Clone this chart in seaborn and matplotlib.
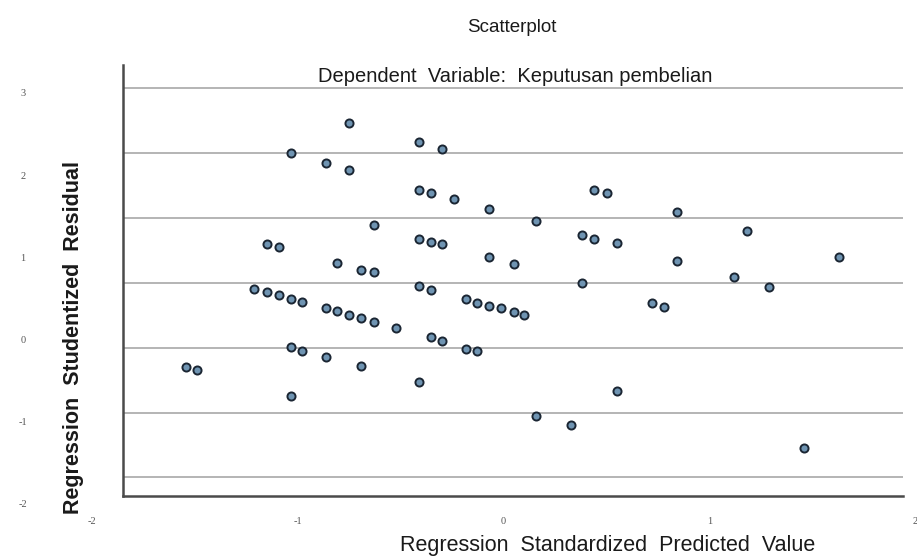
import numpy as np
import pandas as pd
import matplotlib
matplotlib.use("Agg")
import matplotlib.pyplot as plt
import matplotlib.transforms as mtransforms
import seaborn as sns

# ---- data ----
predicted = [-0.75, -0.41, -0.30, -1.03, -0.86, -0.75, -0.41, -0.35, -0.24, -0.07,
             -0.63, 0.16, -1.15, -1.09, -0.41, -0.35, -0.30, -0.07, 0.05, -0.81,
             -0.69, -0.63, -1.21, -1.15, -1.09, -1.03, -0.98, -0.41, -0.35, -0.86,
             -0.81, -0.75, -0.69, -0.63, -0.52, -0.18, -0.13, -0.07, -0.01, 0.05,
             0.10, -0.35, -0.30, -1.03, -0.98, -0.18, -0.13, -1.54, -1.49, -0.86,
             -0.69, -0.41, -1.03, 0.16, 0.44, 0.50, 0.84, 0.38, 0.44, 0.55,
             1.18, 0.84, 1.63, 0.38, 1.12, 1.29, 0.72, 0.78, 0.55, 0.33, 1.46]
residual = [2.65, 2.42, 2.33, 2.28, 2.16, 2.07, 1.83, 1.79, 1.72, 1.60,
            1.41, 1.45, 1.17, 1.14, 1.24, 1.20, 1.17, 1.01, 0.93, 0.94,
            0.86, 0.83, 0.63, 0.59, 0.55, 0.51, 0.47, 0.66, 0.62, 0.39,
            0.36, 0.31, 0.27, 0.23, 0.15, 0.50, 0.46, 0.42, 0.39, 0.35,
            0.31, 0.04, 0.00, -0.08, -0.13, -0.10, -0.13, -0.32, -0.36, -0.20,
            -0.31, -0.51, -0.67, -0.92, 1.83, 1.80, 1.56, 1.28, 1.24, 1.19,
            1.33, 0.97, 1.01, 0.70, 0.77, 0.65, 0.46, 0.41, -0.62, -1.03, -1.31]
x_tick_labels = ["-2", "-1", "0", "1", "2"]
y_tick_labels = ["3", "2", "1", "0", "-1", "-2"]

df = pd.DataFrame({"Regression Standardized Predicted Value": predicted,
                   "Regression Studentized Residual": residual})

sns.set_theme(style="white")
plt.rcParams["font.family"] = ["Liberation Sans", "DejaVu Sans"]

W, H = 917, 557
fig = plt.figure(figsize=(W / 100, H / 100), dpi=100)
L, R, T, B = 123, 903, 65, 496
ax = fig.add_axes([L / W, 1 - B / H, (R - L) / W, (B - T) / H])

px_per_x, x0_px = 206.0, 503.5
px_per_y, y0_px = 82.2, 340.5
ax.set_xlim((L - x0_px) / px_per_x, (R - x0_px) / px_per_x)
ax.set_ylim((y0_px - B) / px_per_y, (y0_px - T) / px_per_y)

# horizontal gridlines
grid_top = (y0_px - 87.5) / px_per_y
grid_step = 65.0 / px_per_y
for k in range(7):
    ax.axhline(grid_top - k * grid_step, color="#a8a8a8", lw=1.2, zorder=1)

sns.scatterplot(data=df, x="Regression Standardized Predicted Value",
                y="Regression Studentized Residual", ax=ax,
                s=34, color="#6f94b2", edgecolor="#1b2633", linewidth=1.4,
                zorder=3)

for side in ["top", "right"]:
    ax.spines[side].set_visible(False)
for side in ["left", "bottom"]:
    ax.spines[side].set_color("#4a4a4a")
    ax.spines[side].set_linewidth(1.8)
ax.set_xticks([])
ax.set_yticks([])

# tick labels (placed as in the reference)
ytrans = mtransforms.blended_transform_factory(ax.transAxes, ax.transData)
for lab in y_tick_labels:
    ax.text((23 - L) / (R - L), float(lab), lab, transform=ytrans,
            ha="center", va="center", fontsize=7.5, color="#555555",
            family="Liberation Serif", clip_on=False)
xtrans = mtransforms.blended_transform_factory(ax.transData, ax.transAxes)
for lab in x_tick_labels:
    ax.text(float(lab), (B - 521) / (B - T), lab, transform=xtrans,
            ha="center", va="center", fontsize=7.5, color="#555555",
            family="Liberation Serif", clip_on=False)

ax.set_xlabel("Regression  Standardized  Predicted  Value", fontsize=15.5,
              color="#1a1a1a")
ax.xaxis.set_label_coords((608 - L) / (R - L), (B - 546) / (B - T))
ax.xaxis.label.set_verticalalignment("center")
ax.set_ylabel("Regression  Studentized  Residual", fontsize=15.5,
              fontweight="bold", color="#1a1a1a")
ax.yaxis.set_label_coords((74 - L) / (R - L), (B - 338) / (B - T))
ax.yaxis.label.set_verticalalignment("center")

ax.text(0.5 + (515 - (L + R) / 2) / (R - L), (B - 76) / (B - T),
        "Dependent  Variable:  Keputusan pembelian", transform=ax.transAxes,
        ha="center", va="center", fontsize=14.5, color="#1a1a1a")
fig.text(512 / W, 1 - 28 / H, "Scatterplot", ha="center", va="center",
         fontsize=13.5, color="#1a1a1a")

fig.savefig("out.png", dpi=100)
